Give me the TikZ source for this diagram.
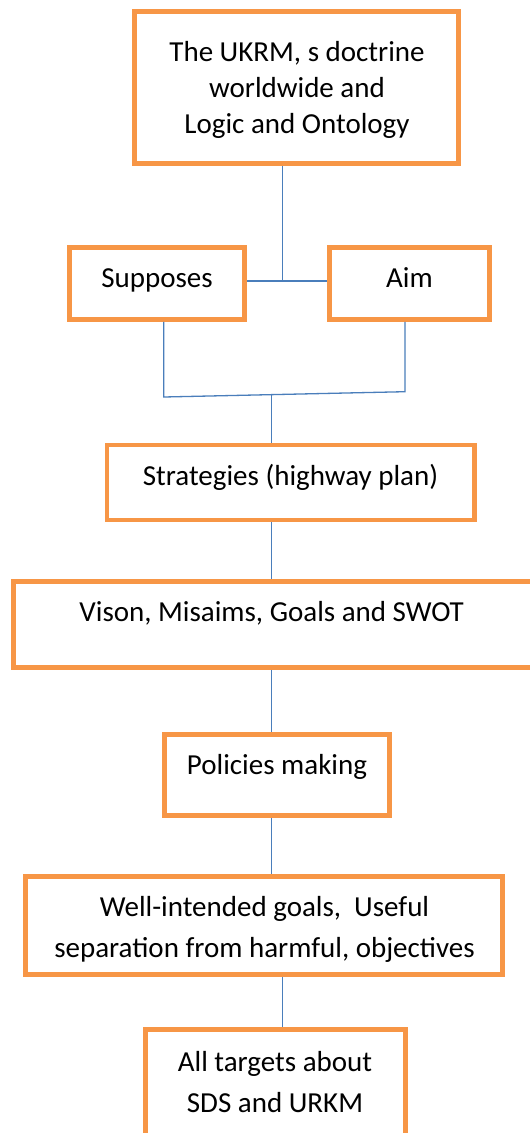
\documentclass[tikz,border=0pt]{standalone}
\usepackage{fontspec}
\setmainfont{Carlito}
\definecolor{boxorange}{HTML}{F79646}
\definecolor{linkblue}{HTML}{4A7EBB}
\begin{document}
\begin{tikzpicture}[x=1pt,y=-1pt,
  obox/.style={draw=boxorange,line width=4.6pt,fill=white,rectangle,inner sep=0pt},
  txt/.style={align=center,inner sep=0pt,font=\fontsize{29}{36}\selectfont},
  txtw/.style={align=center,inner sep=0pt,font=\fontsize{29}{41}\selectfont},
  conn/.style={draw=linkblue,line width=1.3pt}]
\useasboundingbox (0,0) rectangle (530,1133);
\clip (0,0) rectangle (530,1133);
\fill[white] (0,0) rectangle (530,1133);
% boxes
\node[obox,minimum width=324pt,minimum height=152pt] (top) at (296.5,87.5) {};
\node[obox,minimum width=175pt,minimum height=72pt] (sup) at (157,283.5) {};
\node[obox,minimum width=160pt,minimum height=72pt] (aim) at (409.5,283.5) {};
\node[obox,minimum width=367.5pt,minimum height=75pt] (str) at (290.75,482.5) {};
\node[obox,minimum width=521.5pt,minimum height=86pt] (vis) at (274.25,624.5) {};
\node[obox,minimum width=225pt,minimum height=81pt] (pol) at (277,775) {};
\node[obox,minimum width=477pt,minimum height=98pt] (well) at (264,925.5) {};
\node[obox,minimum width=260pt,minimum height=115.5pt] (all) at (275.5,1087.25) {};
% texts
\node[txt] (ttop) at (297,90) {The UKRM, s doctrine\\worldwide and\\Logic and Ontology};
\node[txt,anchor=base] (tsup) at (157,287) {Supposes};
\node[txt,anchor=base] (taim) at (409.5,287) {Aim};
\node[txt,anchor=base] (tstr) at (290.5,485) {Strategies (highway plan)};
\node[txt,anchor=base] (tvis) at (271.7,621) {Vison, Misaims, Goals and SWOT};
\node[txt,anchor=base] (tpol) at (277,774) {Policies making};
\node[txtw] (twell) at (264.5,929) {Well-intended goals,\ \ Useful\\separation from harmful, objectives};
\node[txtw] (tall) at (275,1082) {All targets about\\SDS and URKM};
% connectors
\coordinate (j1) at (282.7,281);
\draw[conn] (top.south -| j1) -- (j1);
\draw[conn] (sup.east |- j1) -- (aim.west |- j1);
\coordinate (ja) at (163.7,397);
\coordinate (jb) at (405,391.7);
\coordinate (jc) at (271.7,394.6);
\draw[conn] (sup.south -| ja) -- (ja) -- (jb) -- (aim.south -| jb);
\draw[conn] (jc) -- (str.north -| jc);
\coordinate (k1) at (271.7,0);
\draw[conn] (str.south -| k1) -- (vis.north -| k1);
\draw[conn] (vis.south -| k1) -- (pol.north -| k1);
\draw[conn] (pol.south -| k1) -- (well.north -| k1);
\coordinate (k2) at (282.7,0);
\draw[conn] (well.south -| k2) -- (all.north -| k2);
\end{tikzpicture}
\end{document}
